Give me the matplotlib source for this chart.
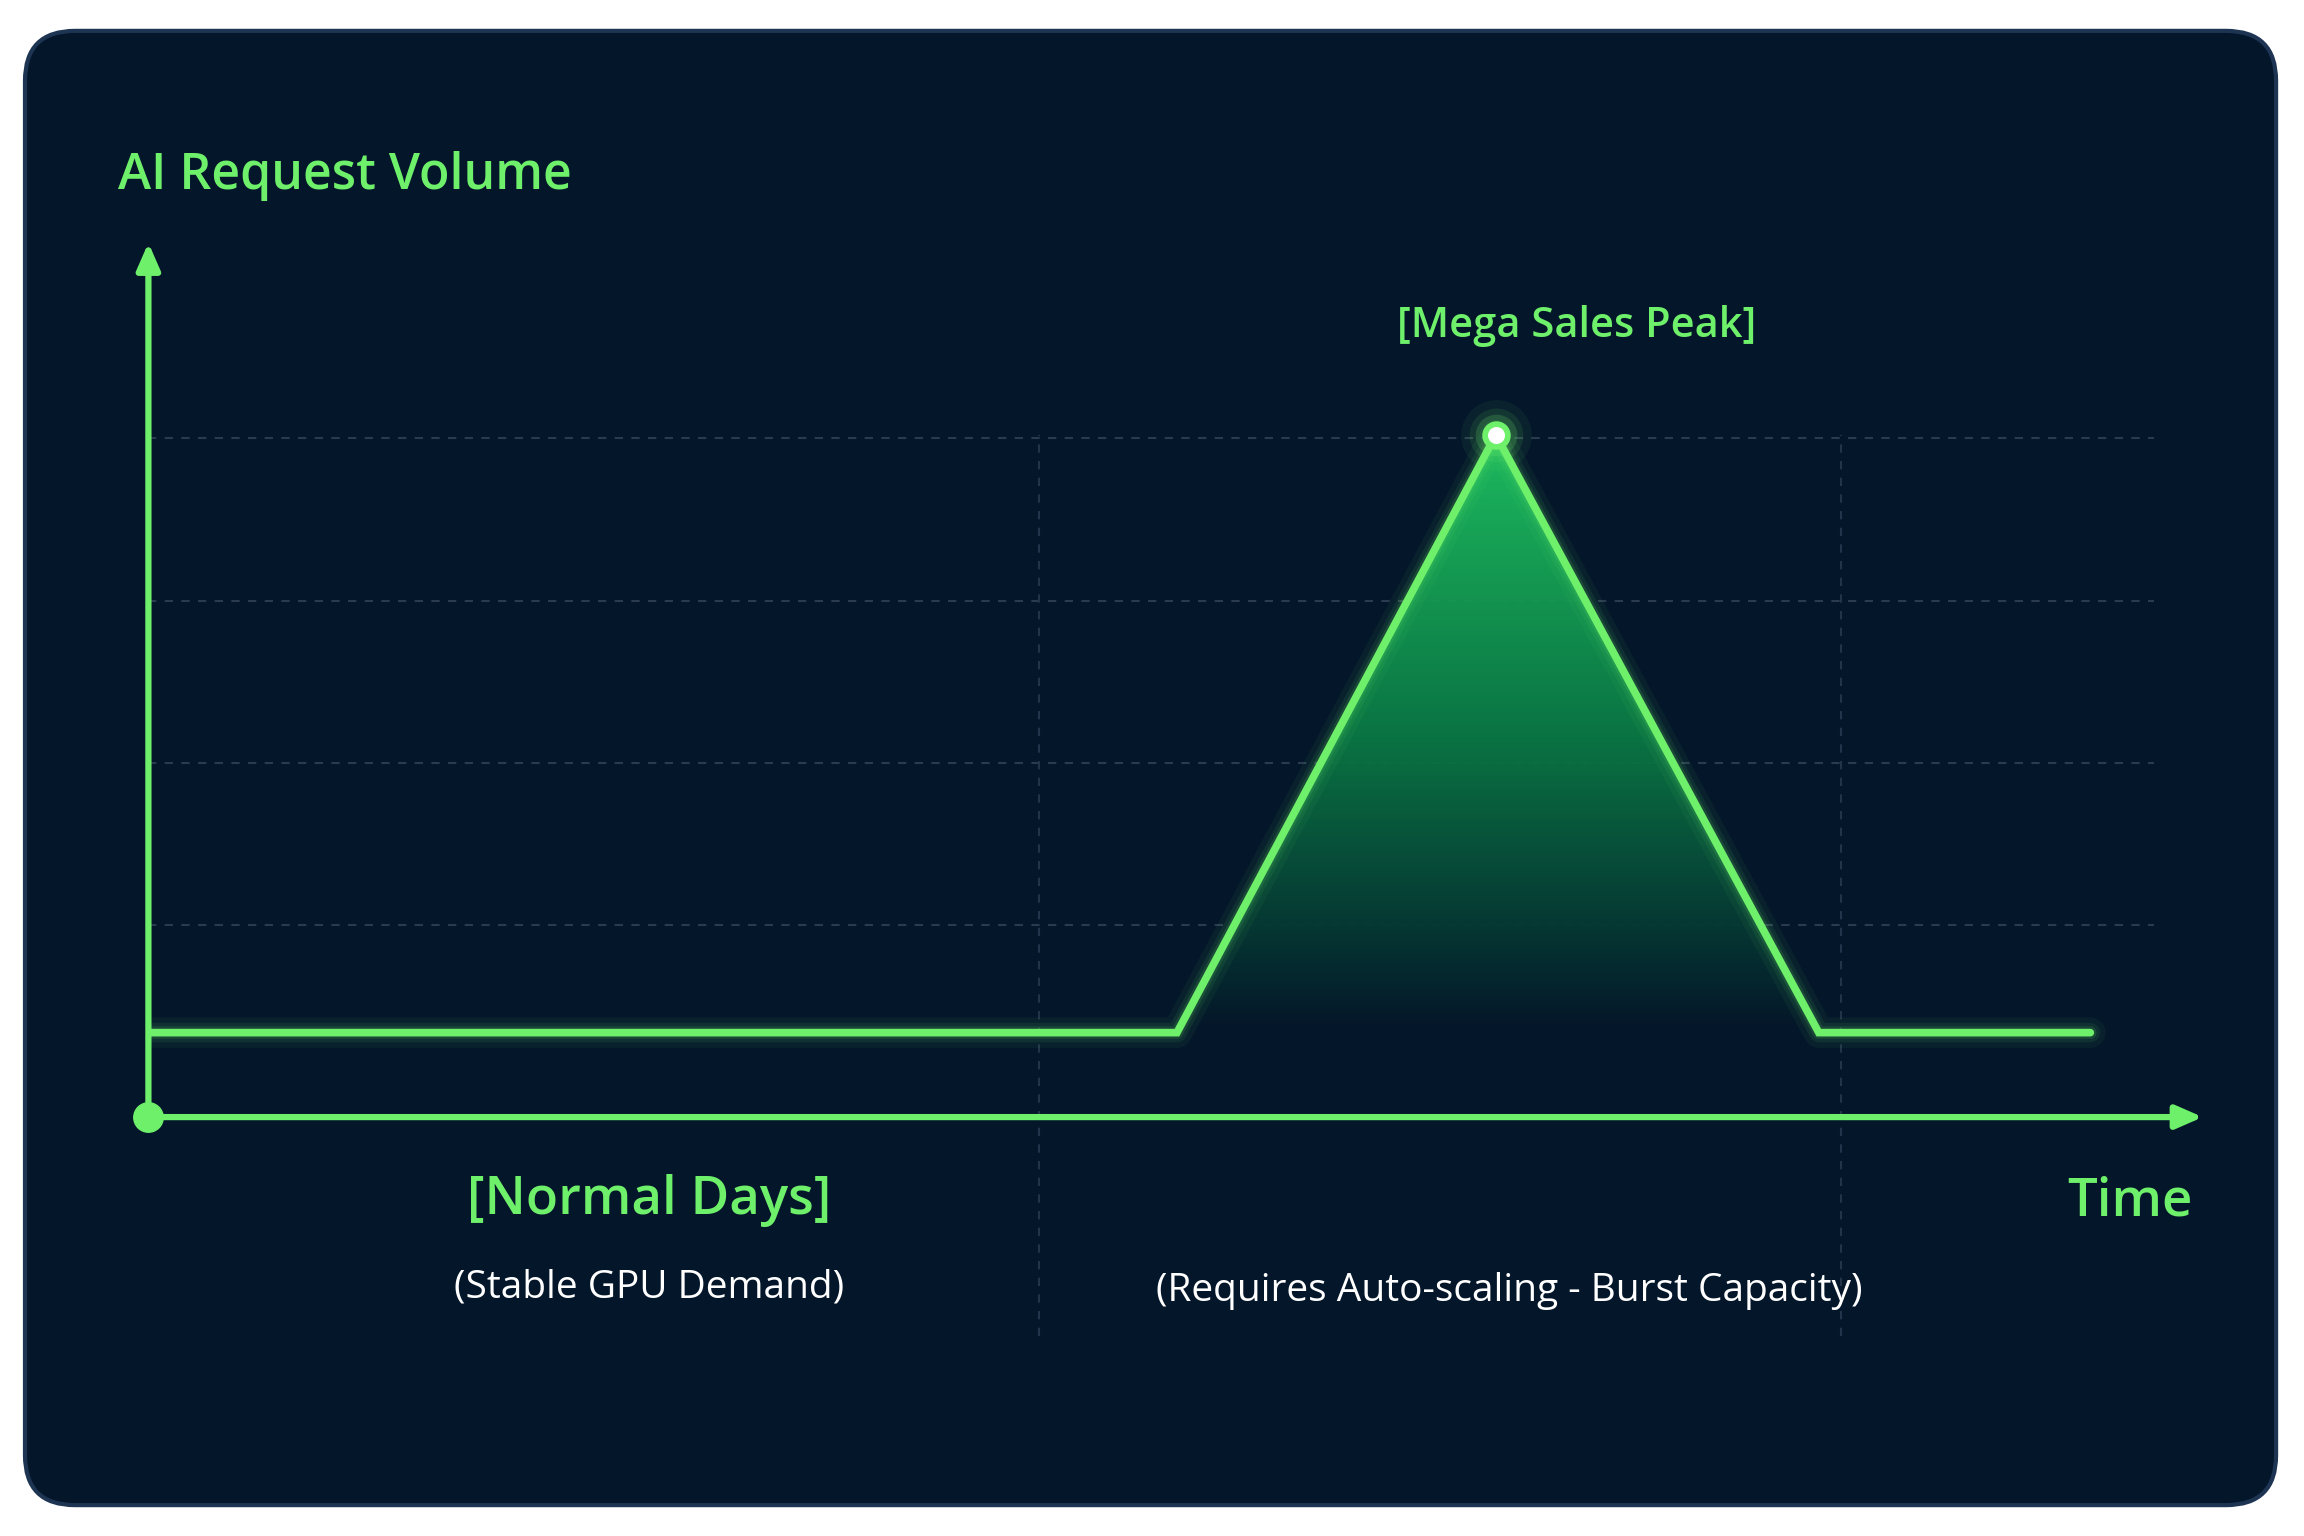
import numpy as np
import matplotlib
matplotlib.use("Agg")
import matplotlib.pyplot as plt
from matplotlib.patches import FancyBboxPatch, Polygon

# data
time_pts = [0.0, 5.0, 6.55, 8.12, 9.44]
volume_pts = [0.52, 0.52, 4.2, 0.52, 0.52]
grid_y = [1.18, 2.18, 3.18, 4.18]
grid_x = [4.33, 8.23]
peak_t, peak_v = 6.55, 4.2

GREEN = "#6ef06a"
BG = "#04162a"
W, H = 1568, 1045

plt.rcParams['font.family'] = ['Open Sans', 'DejaVu Sans']
fig = plt.figure(figsize=(23.04, 15.36), dpi=100)
fig.patch.set_facecolor("white")

# rounded dark panel
bg = fig.add_axes([0, 0, 1, 1])
bg.set_xlim(0, W); bg.set_ylim(H, 0); bg.axis("off")
bg.add_patch(FancyBboxPatch((17, 21), 1532, 1003, boxstyle="round,pad=0,rounding_size=34",
                            fc=BG, ec="#1d3552", lw=3))

ax = fig.add_axes([101 / W, (H - 760) / H, 1400 / W, 552.5 / H])
ax.set_xlim(0, 10); ax.set_ylim(0, 5)
ax.axis("off")

for gy in grid_y:
    ax.plot([0, 9.75], [gy, gy], ls=(0, (4, 4)), color="#2a3b50", lw=1.5, zorder=1)
for gx in grid_x:
    ax.plot([gx, gx], [-1.35, 4.2], ls=(0, (4, 4)), color="#22344a", lw=1.5, zorder=1, clip_on=False)

# gradient fill under the peak
grad = np.linspace(0, 1, 256).reshape(-1, 1)
cmap = matplotlib.colors.LinearSegmentedColormap.from_list("g", [BG, "#0b7a45", "#1fc262"])
im = ax.imshow(grad, extent=[5.0, 8.12, 0.52, 4.2], origin="lower", cmap=cmap,
               aspect="auto", zorder=2, alpha=0.95)
tri = Polygon(list(zip(time_pts[1:4], volume_pts[1:4])), closed=True, transform=ax.transData)
im.set_clip_path(tri)

# line with glow
for lw, a in [(22, 0.05), (14, 0.08), (9, 0.12)]:
    ax.plot(time_pts, volume_pts, color=GREEN, lw=lw, alpha=a, solid_capstyle="round", zorder=3)
ax.plot(time_pts, volume_pts, color=GREEN, lw=5.5, solid_capstyle="round",
        solid_joinstyle="miter", zorder=4)

# peak marker glow
for s, a in [(2600, 0.06), (1500, 0.1), (900, 0.18)]:
    ax.scatter([peak_t], [peak_v], s=s, color=GREEN, alpha=a, zorder=5, lw=0)
ax.scatter([peak_t], [peak_v], s=420, color=GREEN, zorder=6, lw=0)
ax.scatter([peak_t], [peak_v], s=150, color="white", zorder=7, lw=0)

# axes arrows
ax.annotate("", xy=(10.0, 0), xytext=(0, 0), annotation_clip=False,
            arrowprops=dict(arrowstyle="-|>,head_length=1.6,head_width=0.7", color=GREEN, lw=4.5))
ax.annotate("", xy=(0, 5.4), xytext=(0, 0), annotation_clip=False,
            arrowprops=dict(arrowstyle="-|>,head_length=1.6,head_width=0.7", color=GREEN, lw=4.5))
ax.scatter([0], [0], s=450, color=GREEN, zorder=8, clip_on=False)

# text
def ft(x, y, s, **kw):
    fig.text(x / W, 1 - y / H, s, **kw)

ft(80, 120, "AI Request Volume", color=GREEN, fontsize=36, fontweight="semibold", va="center")
ft(1073, 222, "[Mega Sales Peak]", color=GREEN, fontsize=30, fontweight="semibold", ha="center", va="center")
ft(442, 817, "[Normal Days]", color=GREEN, fontsize=38, fontweight="semibold", ha="center", va="center")
ft(442, 876, "(Stable GPU Demand)", color="white", fontsize=28, ha="center", va="center")
ft(1492, 818, "Time", color=GREEN, fontsize=38, fontweight="semibold", ha="right", va="center")
ft(1027, 878, "(Requires Auto-scaling - Burst Capacity)", color="white", fontsize=28, ha="center", va="center")

fig.savefig("out.png", dpi=100, facecolor=fig.get_facecolor())
